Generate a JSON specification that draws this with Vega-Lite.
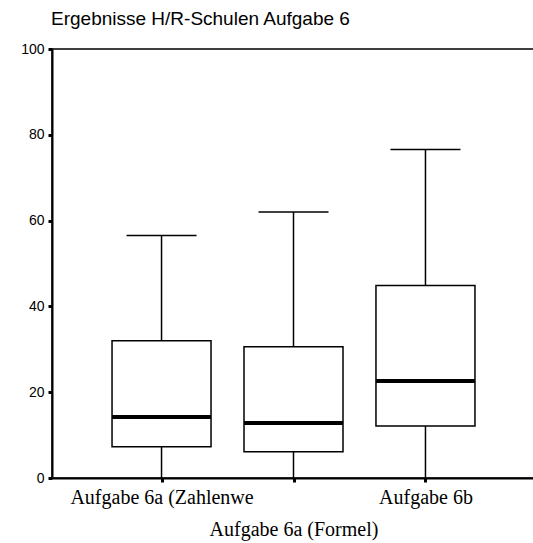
{
  "$schema": "https://vega.github.io/schema/vega-lite/v6.json",
  "autosize": "none",
  "padding": {"left": 52, "top": 49, "right": 0, "bottom": 65},
  "width": 483,
  "height": 429,
  "background": "white",
  "title": {
    "text": "Ergebnisse H/R-Schulen Aufgabe 6",
    "anchor": "start",
    "frame": "group",
    "font": "Liberation Sans",
    "fontSize": 19,
    "fontWeight": "normal",
    "color": "black",
    "baseline": "alphabetic",
    "offset": 1,
    "dx": -1,
    "dy": 3
  },
  "config": {
    "view": {"stroke": "black", "strokeWidth": 1.5},
    "axis": {"grid": false, "domainColor": "black", "tickColor": "black", "labelColor": "black"}
  },
  "data": {
    "values": [
      {"group": "Aufgabe 6a (Zahlenwe", "min": 0, "q1": 7.3, "median": 14.2, "q3": 32.0, "max": 56.5},
      {"group": "Aufgabe 6a (Formel)", "min": 0, "q1": 6.1, "median": 12.8, "q3": 30.6, "max": 62.0},
      {"group": "Aufgabe 6b", "min": 0, "q1": 12.1, "median": 22.6, "q3": 44.9, "max": 76.6}
    ]
  },
  "encoding": {
    "x": {
      "field": "group",
      "type": "nominal",
      "sort": null,
      "title": null,
      "scale": {"type": "point", "padding": 0.83},
      "axis": {
        "labelAngle": 0,
        "labelFont": "Liberation Serif",
        "labelFontSize": 20,
        "labelBaseline": "alphabetic",
        "labelPadding": 21,
        "labelLineHeight": 32,
        "labelOverlap": false,
        "labelLimit": 0,
        "labelExpr": "datum.value == 'Aufgabe 6a (Formel)' ? ['', datum.value] : datum.value",
        "tickSize": 4,
        "tickWidth": 3,
        "domainWidth": 2,
        "zindex": 1
      }
    }
  },
  "layer": [
    {
      "mark": {"type": "rule", "color": "black", "strokeWidth": 1.5},
      "encoding": {
        "y": {
          "field": "min",
          "type": "quantitative",
          "title": null,
          "scale": {"domain": [0, 100], "nice": false},
          "axis": {
            "values": [0, 20, 40, 60, 80, 100],
            "labelFont": "Liberation Sans",
            "labelFontSize": 14,
            "labelPadding": 4,
            "tickSize": 4,
            "tickWidth": 3,
            "domainWidth": 2,
            "zindex": 1
          }
        },
        "y2": {"field": "q1"}
      }
    },
    {
      "mark": {"type": "rule", "color": "black", "strokeWidth": 1.5},
      "encoding": {
        "y": {"field": "q3", "type": "quantitative"},
        "y2": {"field": "max"}
      }
    },
    {
      "mark": {"type": "tick", "color": "black", "thickness": 1.5, "size": 70, "opacity": 1},
      "encoding": {
        "y": {"field": "max", "type": "quantitative"}
      }
    },
    {
      "mark": {"type": "bar", "fill": "white", "stroke": "black", "strokeWidth": 1.5, "size": 99},
      "encoding": {
        "y": {"field": "q1", "type": "quantitative"},
        "y2": {"field": "q3"}
      }
    },
    {
      "mark": {"type": "tick", "color": "black", "thickness": 4, "size": 99, "opacity": 1},
      "encoding": {
        "y": {"field": "median", "type": "quantitative"}
      }
    }
  ]
}
